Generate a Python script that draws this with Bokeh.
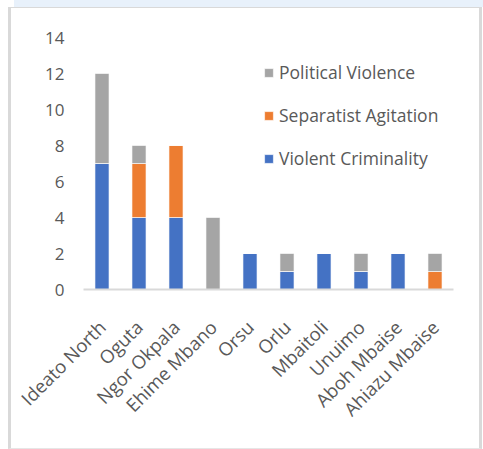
import math
from bokeh.plotting import figure
from bokeh.models import ColumnDataSource, Legend, LegendItem, FactorRange, Range1d, FixedTicker
from bokeh.embed import file_html
from bokeh.resources import INLINE

categories = ["Ideato North", "Oguta", "Ngor Okpala", "Ehime Mbano", "Orsu", "Orlu",
              "Mbaitoli", "Unuimo", "Aboh Mbaise", "Ahiazu Mbaise"]
violent_criminality = [7, 4, 4, 0, 2, 1, 2, 1, 2, 0]
separatist_agitation = [0, 3, 4, 0, 0, 0, 0, 0, 0, 1]
political_violence = [5, 1, 0, 4, 0, 1, 0, 1, 0, 1]
series = ["Violent Criminality", "Separatist Agitation", "Political Violence"]
colors = ["#4472C4", "#ED7D31", "#A5A5A5"]
y_ticks = [0, 2, 4, 6, 8, 10, 12, 14]

src = ColumnDataSource(dict(cat=categories,
                            **{"Violent Criminality": violent_criminality,
                               "Separatist Agitation": separatist_agitation,
                               "Political Violence": political_violence}))

FONT = "Open Sans"
TXT = "#595959"

p = figure(x_range=FactorRange(*categories, range_padding=0), y_range=Range1d(0, 14),
           width=467, height=433, output_backend="svg", toolbar_location=None,
           min_border_left=75, min_border_right=22, min_border_top=29, min_border_bottom=152)

renderers = p.vbar_stack(series, x="cat", width=0.38, source=src, color=colors,
                         line_color="white", line_width=0.6)

p.outline_line_color = None
p.xgrid.grid_line_color = None
p.ygrid.grid_line_color = None

p.yaxis.ticker = FixedTicker(ticks=y_ticks)
p.yaxis.axis_line_color = None
p.yaxis.major_tick_line_color = None
p.yaxis.minor_tick_line_color = None
p.yaxis.major_label_text_font = FONT
p.yaxis.major_label_text_font_size = "17px"
p.yaxis.major_label_text_color = TXT
p.yaxis.major_label_standoff = 13

p.xaxis.axis_line_color = "#D9D9D9"
p.xaxis.axis_line_width = 2
p.xaxis.major_tick_line_color = None
p.xaxis.minor_tick_line_color = None
p.xaxis.major_label_orientation = math.pi / 4
p.xaxis.major_label_text_font = FONT
p.xaxis.major_label_text_font_size = "18.5px"
p.xaxis.major_label_text_color = TXT
p.xaxis.major_label_standoff = 28

items = [LegendItem(label=series[i], renderers=[renderers[i]]) for i in [2, 1, 0]]
legend = Legend(items=items, location=(180, 119), orientation="vertical",
                glyph_width=11, glyph_height=11, label_height=24, spacing=19, padding=0,
                margin=0, label_text_font=FONT, label_text_font_size="17.5px",
                label_text_color=TXT, border_line_color=None, background_fill_alpha=0,
                label_standoff=5)
p.add_layout(legend, "center")

html = file_html(p, INLINE)
html = html.replace("</head>", "<style>body{margin:8px !important;}</style></head>", 1)
deco = ('<div style="position:absolute;left:14px;top:0;width:469px;height:7px;background:#E8F1FB;"></div>'
        '<div style="position:absolute;left:8px;top:7px;width:474px;height:442px;box-sizing:border-box;'
        'border-left:3px solid #D9D9D9;border-right:3px solid #D9D9D9;border-top:1px solid #D9D9D9;'
        'border-bottom:1px solid #E6E6E6;pointer-events:none;"></div>')
html = html.replace("</body>", deco + "</body>", 1)
open("out.html", "w").write(html)
